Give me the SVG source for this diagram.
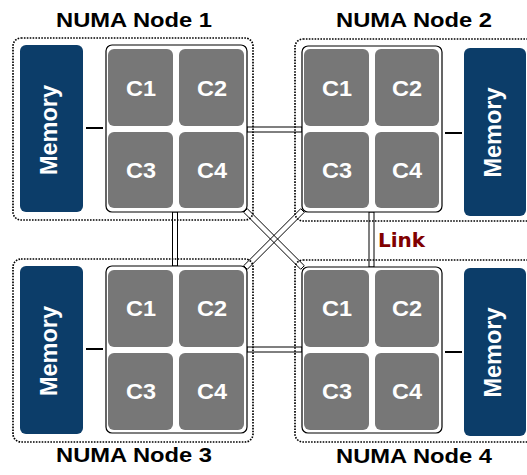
<svg xmlns="http://www.w3.org/2000/svg" width="527" height="475" viewBox="0 0 527 475">
<style>
.bg{fill:#ffffff}
.dot{fill:none;stroke:#000;stroke-width:1.7;stroke-dasharray:1.6 1.3}
.cpu{fill:#ffffff;stroke:#000;stroke-width:1.2}
.core{fill:#777777}
.mem{fill:#0c3d69}
.bus{stroke:#000;stroke-width:2}
.link{fill:none;stroke:#000;stroke-width:1}
.title{font-family:"Liberation Sans",Arial,sans-serif;font-weight:bold;font-size:21px;fill:#000;text-anchor:middle}
.cl{font-family:"Liberation Sans",Arial,sans-serif;font-weight:bold;font-size:22px;fill:#fff;text-anchor:middle}
.ml{font-family:"Liberation Sans",Arial,sans-serif;font-weight:bold;font-size:24px;fill:#fff;text-anchor:middle}
.lk{font-family:"DejaVu Sans",sans-serif;font-weight:bold;font-size:20px;fill:#800000}
</style>
<rect class="bg" x="0" y="0" width="527" height="475"/>
<g id="connectors">
<rect class="link" x="247" y="127" width="55" height="5"/>
<rect class="link" x="247" y="347" width="55" height="5"/>
<rect class="link" x="172.5" y="212" width="5" height="54"/>
<rect class="link" x="369" y="212" width="5" height="55"/>
<polygon class="link" points="247.3,208.7 304.3,265.7 300.7,269.3 243.7,212.3"/>
<polygon class="link" points="300.7,208.7 304.3,212.3 247.3,269.3 243.7,265.7"/>
<text class="lk" x="378" y="247">Link</text>
</g>
<g id="node1">
<rect class="dot" x="13" y="38" width="240" height="182" rx="8"/>
<text class="title" x="134" y="27" textLength="156" lengthAdjust="spacingAndGlyphs">NUMA Node 1</text>
<rect class="mem" x="20" y="45" width="63" height="167" rx="6"/>
<text class="ml" transform="translate(57,130) rotate(-90)" textLength="90" lengthAdjust="spacingAndGlyphs">Memory</text>
<line class="bus" x1="86" y1="128" x2="103" y2="128"/>
<rect class="cpu" x="106" y="45" width="141" height="167" rx="6"/>
<rect class="core" x="108" y="49" width="65" height="77" rx="6"/>
<rect class="core" x="179" y="49" width="65" height="77" rx="6"/>
<rect class="core" x="108" y="132" width="65" height="76" rx="6"/>
<rect class="core" x="179" y="132" width="65" height="76" rx="6"/>
<text class="cl" x="141" y="96" textLength="30" lengthAdjust="spacingAndGlyphs">C1</text>
<text class="cl" x="212" y="96" textLength="30" lengthAdjust="spacingAndGlyphs">C2</text>
<text class="cl" x="141" y="178" textLength="30" lengthAdjust="spacingAndGlyphs">C3</text>
<text class="cl" x="212" y="178" textLength="30" lengthAdjust="spacingAndGlyphs">C4</text>
</g>
<g id="node2">
<rect class="dot" x="295" y="39" width="240" height="182" rx="8"/>
<text class="title" x="414" y="27" textLength="156" lengthAdjust="spacingAndGlyphs">NUMA Node 2</text>
<rect class="mem" x="464" y="48" width="62" height="168" rx="6"/>
<text class="ml" transform="translate(501,132.5) rotate(-90)" textLength="90" lengthAdjust="spacingAndGlyphs">Memory</text>
<line class="bus" x1="445" y1="133" x2="462" y2="133"/>
<rect class="cpu" x="302" y="46" width="140" height="166" rx="6"/>
<rect class="core" x="304" y="49" width="65" height="77" rx="6"/>
<rect class="core" x="375" y="49" width="64" height="77" rx="6"/>
<rect class="core" x="304" y="132" width="65" height="76" rx="6"/>
<rect class="core" x="375" y="132" width="64" height="76" rx="6"/>
<text class="cl" x="337" y="96" textLength="30" lengthAdjust="spacingAndGlyphs">C1</text>
<text class="cl" x="407" y="96" textLength="30" lengthAdjust="spacingAndGlyphs">C2</text>
<text class="cl" x="337" y="178" textLength="30" lengthAdjust="spacingAndGlyphs">C3</text>
<text class="cl" x="407" y="178" textLength="30" lengthAdjust="spacingAndGlyphs">C4</text>
</g>
<g id="node3">
<rect class="dot" x="13" y="259" width="240" height="183" rx="8"/>
<text class="title" x="134" y="462" textLength="156" lengthAdjust="spacingAndGlyphs">NUMA Node 3</text>
<rect class="mem" x="20" y="266" width="63" height="168" rx="6"/>
<text class="ml" transform="translate(57,351) rotate(-90)" textLength="90" lengthAdjust="spacingAndGlyphs">Memory</text>
<line class="bus" x1="86" y1="349" x2="103" y2="349"/>
<rect class="cpu" x="106" y="266" width="141" height="167" rx="6"/>
<rect class="core" x="108" y="270" width="65" height="77" rx="6"/>
<rect class="core" x="179" y="270" width="65" height="77" rx="6"/>
<rect class="core" x="108" y="353" width="65" height="77" rx="6"/>
<rect class="core" x="179" y="353" width="65" height="77" rx="6"/>
<text class="cl" x="141" y="316" textLength="30" lengthAdjust="spacingAndGlyphs">C1</text>
<text class="cl" x="212" y="316" textLength="30" lengthAdjust="spacingAndGlyphs">C2</text>
<text class="cl" x="141" y="399" textLength="30" lengthAdjust="spacingAndGlyphs">C3</text>
<text class="cl" x="212" y="399" textLength="30" lengthAdjust="spacingAndGlyphs">C4</text>
</g>
<g id="node4">
<rect class="dot" x="295" y="260" width="240" height="182" rx="8"/>
<text class="title" x="414" y="463" textLength="156" lengthAdjust="spacingAndGlyphs">NUMA Node 4</text>
<rect class="mem" x="464" y="268" width="62" height="168" rx="6"/>
<text class="ml" transform="translate(501,352.5) rotate(-90)" textLength="90" lengthAdjust="spacingAndGlyphs">Memory</text>
<line class="bus" x1="445" y1="352" x2="462" y2="352"/>
<rect class="cpu" x="302" y="267" width="140" height="166" rx="6"/>
<rect class="core" x="304" y="270" width="65" height="77" rx="6"/>
<rect class="core" x="375" y="270" width="64" height="77" rx="6"/>
<rect class="core" x="304" y="353" width="65" height="77" rx="6"/>
<rect class="core" x="375" y="353" width="64" height="77" rx="6"/>
<text class="cl" x="337" y="316" textLength="30" lengthAdjust="spacingAndGlyphs">C1</text>
<text class="cl" x="407" y="316" textLength="30" lengthAdjust="spacingAndGlyphs">C2</text>
<text class="cl" x="337" y="399" textLength="30" lengthAdjust="spacingAndGlyphs">C3</text>
<text class="cl" x="407" y="399" textLength="30" lengthAdjust="spacingAndGlyphs">C4</text>
</g>
</svg>
